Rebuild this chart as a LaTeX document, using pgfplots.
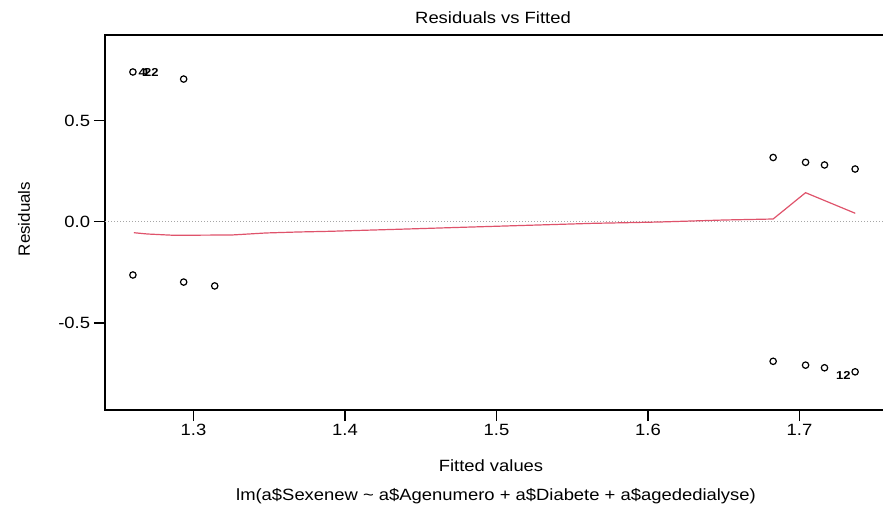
\documentclass[border=0pt]{standalone}
\usepackage{pgfplots}
\pgfplotsset{compat=1.18}
\usepackage{fontspec}
\setmainfont{Liberation Sans}
\definecolor{rred}{HTML}{DF536B}
\begin{document}
\begin{tikzpicture}[x=1pt,y=1pt]
\begin{axis}[at={(105pt,99pt)}, anchor=south west, scale only axis,
  width=781pt, height=375pt,
  xmin=1.24158, xmax=1.75709, ymin=-0.9294, ymax=0.9215,
  tick pos=left, tick align=outside, major tick length=11pt,
  xtick={1.3,1.4,1.5,1.6,1.7}, ytick={-0.5,0,0.5},
  /pgf/number format/assume math mode=true,
  /pgf/number format/fixed, /pgf/number format/fixed zerofill, /pgf/number format/precision=1,
  tick label style={font=\fontsize{16.3}{16.3}\selectfont, black, xscale=1.13},
  axis line style={line width=1.2pt, black},
  tick style={line width=1.2pt, black},
  clip=false,
]
\addplot[gray!70, dotted, line width=1pt, forget plot] coordinates {(1.24158,0) (1.75709,0)};
\addplot[rred, line width=1.2pt] coordinates {
(1.2606,-0.0543) (1.2695,-0.0607) (1.2869,-0.0671) (1.3253,-0.0656) (1.3477,-0.0557)
(1.369,-0.0508) (1.3903,-0.0474) (1.4123,-0.0424) (1.4347,-0.0375) (1.456,-0.0326)
(1.4774,-0.0276) (1.4993,-0.0227) (1.5207,-0.0178) (1.543,-0.0128) (1.5644,-0.0079)
(1.5857,-0.0049) (1.6077,-0.0015) (1.629,0.0035) (1.6504,0.0084) (1.6826,0.0133)
(1.704,0.1432) (1.7368,0.0415)};
\addplot[only marks, mark=o, mark size=3.2pt, mark options={line width=1.2pt, black}] coordinates {
(1.2600,0.739) (1.2935,0.704)
(1.6826,0.317) (1.7040,0.293) (1.7165,0.280) (1.7367,0.260)
(1.2600,-0.263) (1.2935,-0.298) (1.3140,-0.317)
(1.6826,-0.689) (1.7040,-0.708) (1.7165,-0.721) (1.7367,-0.741)};
\node[font=\fontsize{11.5}{11.5}\selectfont\bfseries, xscale=1.13, anchor=west, inner sep=0pt] at (axis cs:1.2636,0.7364) {4};
\node[font=\fontsize{11.5}{11.5}\selectfont\bfseries, xscale=1.13, anchor=west, inner sep=0pt] at (axis cs:1.2662,0.7364) {1};
\node[font=\fontsize{11.5}{11.5}\selectfont\bfseries, xscale=1.13, anchor=west, inner sep=0pt] at (axis cs:1.2672,0.7364) {22};
\node[font=\fontsize{11.5}{11.5}\selectfont\bfseries, xscale=1.13, anchor=east, inner sep=0pt] at (axis cs:1.7338,-0.759) {12};
\end{axis}
\node[font=\fontsize{16.3}{16.3}\selectfont, xscale=1.13] at (493,509-18) {Residuals vs Fitted};
\node[font=\fontsize{16.3}{16.3}\selectfont, xscale=1.13] at (491,509-466) {Fitted values};
\node[font=\fontsize{16.3}{16.3}\selectfont, xscale=1.13] at (496,509-496) {lm(a\$Sexenew \textasciitilde{} a\$Agenumero + a\$Diabete + a\$agededialyse)};
\node[font=\fontsize{16.3}{16.3}\selectfont, rotate=90, xscale=1.04] at (24,509-219) {Residuals};
\pgfresetboundingbox
\useasboundingbox (0,0) rectangle (883,509);
\end{tikzpicture}
\end{document}
